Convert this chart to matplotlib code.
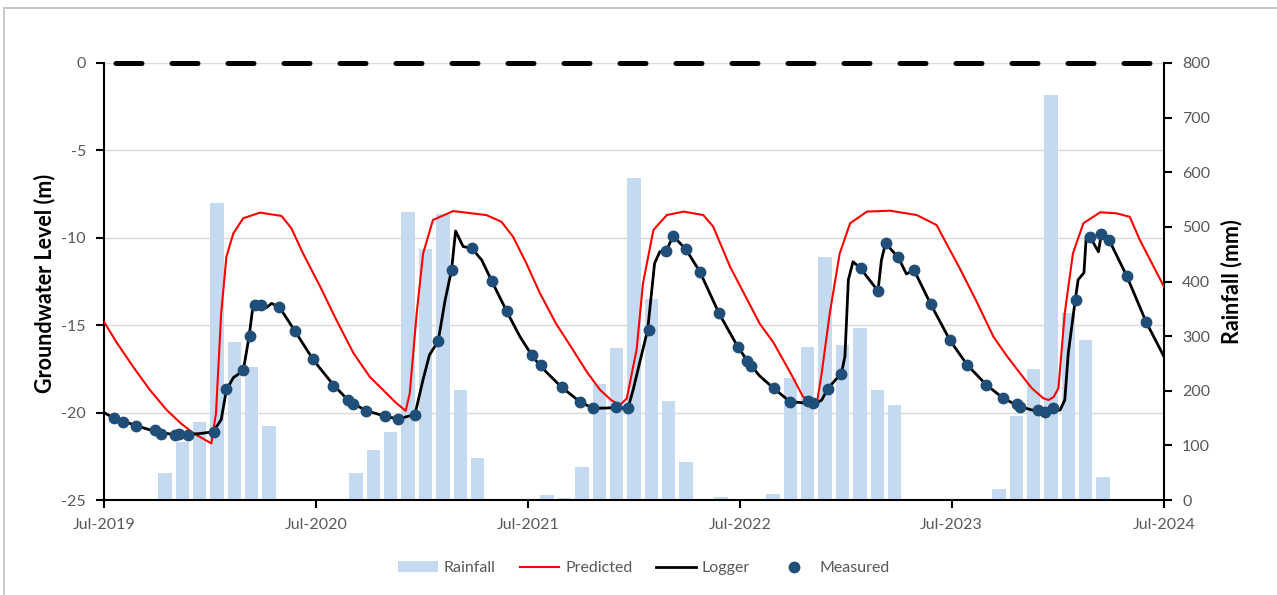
import matplotlib
matplotlib.use('Agg')
import matplotlib.pyplot as plt
import pandas as pd
import matplotlib.dates as mdates
from matplotlib.patches import Rectangle, Patch
from matplotlib.lines import Line2D

# ---------------- data ----------------
rain_months = pd.date_range('2019-07-01', '2024-07-01', freq='MS')  # 61 categories
rainfall_mm = [0, 0, 0, 50, 106, 142,
               544, 289, 244, 136, 0, 0, 0, 0, 50, 91, 124, 528,
               459, 523, 201, 77, 0, 0, 0, 9, 3, 60, 212, 278,
               589, 368, 182, 69, 0, 5, 0, 0, 11, 223, 281, 444,
               283, 314, 201, 173, 0, 0, 0, 0, 0, 21, 154, 239,
               741, 342, 293, 43, 0, 0, 0]

pred_dates = ['2019-07-01', '2019-07-23', '2019-08-20', '2019-09-18', '2019-10-17', '2019-11-10',
              '2019-12-02', '2020-01-02', '2020-01-10',
              '2020-01-19', '2020-01-28', '2020-02-09', '2020-02-26', '2020-03-26', '2020-05-02',
              '2020-05-19', '2020-06-08', '2020-07-07', '2020-08-03', '2020-09-03', '2020-10-01',
              '2020-10-30', '2020-11-15', '2020-12-02',
              '2020-12-09', '2020-12-21', '2021-01-01', '2021-01-18', '2021-02-22', '2021-04-20',
              '2021-05-16', '2021-06-05', '2021-06-28', '2021-07-21', '2021-08-18', '2021-09-16',
              '2021-10-10', '2021-11-02', '2021-11-21',
              '2021-12-06', '2021-12-18', '2022-01-04', '2022-01-15', '2022-02-02', '2022-02-25',
              '2022-03-26', '2022-04-29', '2022-05-16', '2022-06-14', '2022-07-13', '2022-08-04',
              '2022-08-28', '2022-09-25',
              '2022-10-18', '2022-11-11', '2022-11-19', '2022-12-03', '2022-12-20', '2023-01-07',
              '2023-02-05', '2023-03-17', '2023-05-02', '2023-06-05', '2023-06-28', '2023-07-15',
              '2023-08-13', '2023-09-11', '2023-10-05', '2023-10-27', '2023-11-16',
              '2023-12-06', '2023-12-15', '2023-12-24', '2024-01-01',
              '2024-01-12', '2024-01-26', '2024-02-13', '2024-03-13', '2024-04-10', '2024-05-03',
              '2024-05-20', '2024-07-01']
pred_level = [-14.8, -16.0, -17.37, -18.7, -19.85, -20.6,
              -21.18, -21.76, -20.04,
              -14.3, -11.08, -9.74, -8.88, -8.56, -8.75,
              -9.46, -10.89, -12.75, -14.6, -16.6, -17.95,
              -18.9, -19.43, -19.9,
              -18.9, -14.3, -10.9, -8.98, -8.47, -8.7,
              -9.08, -9.94, -11.46, -13.15, -14.9, -16.4,
              -17.66, -18.7, -19.28,
              -19.57, -19.2, -16.4, -12.6, -9.55, -8.7,
              -8.5, -8.7, -9.36, -11.65, -13.5, -14.9,
              -16.0, -17.66,
              -19.1, -19.4, -17.75, -14.3, -10.9, -9.17,
              -8.5, -8.45, -8.7, -9.27, -10.7, -11.75,
              -13.65, -15.66, -16.8, -17.75, -18.6,
              -19.18, -19.28, -19.1, -18.6,
              -14.3, -10.9, -9.17, -8.54, -8.6, -8.8,
              -10.1, -12.8]

logger_dates = ['2019-07-01', '2019-07-17', '2019-08-26', '2019-09-29', '2019-11-03', '2019-12-13',
                '2020-01-05', '2020-01-19', '2020-01-28', '2020-02-09', '2020-02-26', '2020-03-07',
                '2020-03-14', '2020-04-06', '2020-04-15', '2020-04-29', '2020-05-25', '2020-06-26',
                '2020-07-30', '2020-08-28', '2020-09-26', '2020-10-27', '2020-11-19', '2020-12-18',
                '2021-01-01', '2021-01-12', '2021-01-27', '2021-02-08', '2021-02-19', '2021-02-26',
                '2021-03-11', '2021-03-26', '2021-04-12', '2021-04-29', '2021-05-25', '2021-06-17',
                '2021-07-07', '2021-07-21', '2021-08-28', '2021-09-28', '2021-10-21', '2021-11-30',
                '2021-12-20', '2021-12-29', '2022-01-09', '2022-01-23', '2022-02-04', '2022-02-13',
                '2022-02-24', '2022-03-08', '2022-03-30', '2022-04-23', '2022-05-26', '2022-06-28',
                '2022-07-15', '2022-08-04', '2022-08-28', '2022-09-25', '2022-10-15', '2022-11-04',
                '2022-11-19', '2022-11-30', '2022-12-23', '2022-12-29', '2023-01-04', '2023-01-12',
                '2023-01-25', '2023-02-24', '2023-03-02', '2023-03-09', '2023-03-31', '2023-04-14',
                '2023-04-27', '2023-05-26', '2023-06-28', '2023-07-28', '2023-08-30', '2023-09-28',
                '2023-10-24', '2023-11-16', '2023-12-09', '2024-01-04', '2024-01-12', '2024-01-18',
                '2024-01-30', '2024-02-04', '2024-02-14', '2024-02-18', '2024-02-27', '2024-03-10',
                '2024-03-15', '2024-03-28', '2024-04-28', '2024-05-31', '2024-07-01']
logger_level = [-20.0, -20.3, -20.75, -21.1, -21.28, -21.2,
                -21.1, -20.4, -18.7, -18.0, -17.6, -15.66,
                -13.85, -14.0, -13.75, -14.0, -15.33, -17.0,
                -18.4, -19.4, -19.9, -20.2, -20.37, -20.1,
                -18.1, -16.7, -15.9, -13.56, -11.84, -9.61,
                -10.5, -10.6, -11.27, -12.45, -14.2, -15.66,
                -16.7, -17.3, -18.56, -19.37, -19.76, -19.72,
                -19.76, -18.7, -17.18, -15.27, -11.46, -10.8,
                -10.75, -9.9, -10.66, -11.94, -14.32, -16.27,
                -17.08, -17.9, -18.6, -19.37, -19.43, -19.57,
                -19.28, -18.6, -17.75, -16.8, -12.4, -11.37,
                -11.75, -13.04, -11.27, -10.32, -11.12, -12.07,
                -11.84, -13.8, -15.86, -17.28, -18.42, -19.18,
                -19.62, -19.85, -19.94, -19.85, -19.28, -16.6,
                -13.56, -12.4, -12.0, -9.94, -10.09, -10.8,
                -9.78, -10.1, -12.2, -14.8, -16.8]

meas_dates = ['2019-07-18', '2019-08-02', '2019-08-26', '2019-09-27', '2019-10-08', '2019-10-31',
              '2019-11-08', '2019-11-23', '2020-01-06', '2020-01-28', '2020-02-26', '2020-03-08',
              '2020-03-18', '2020-03-28', '2020-04-27', '2020-05-25', '2020-06-25', '2020-07-29',
              '2020-08-25', '2020-09-03', '2020-09-25', '2020-10-28', '2020-11-18', '2020-12-18',
              '2021-01-27', '2021-02-19', '2021-03-26', '2021-04-29', '2021-05-25', '2021-07-08',
              '2021-07-24', '2021-08-28', '2021-09-28', '2021-10-21', '2021-11-30', '2021-12-20',
              '2022-01-26', '2022-02-24', '2022-03-08', '2022-03-30', '2022-04-23', '2022-05-26',
              '2022-06-28', '2022-07-13', '2022-07-21', '2022-08-28', '2022-09-26', '2022-10-27',
              '2022-11-04', '2022-11-30', '2022-12-23', '2023-01-25', '2023-02-24', '2023-03-09',
              '2023-03-30', '2023-04-27', '2023-05-26', '2023-06-28', '2023-07-28', '2023-08-30',
              '2023-09-28', '2023-10-21', '2023-10-27', '2023-11-27', '2023-12-09', '2023-12-23',
              '2024-01-31', '2024-02-24', '2024-03-15', '2024-03-28', '2024-04-28', '2024-05-31']
meas_level = [-20.3, -20.55, -20.75, -21.0, -21.2, -21.28,
              -21.25, -21.28, -21.1, -18.67, -17.56, -15.62,
              -13.85, -13.85, -13.98, -15.33, -16.95, -18.46,
              -19.28, -19.5, -19.88, -20.2, -20.37, -20.14,
              -15.9, -11.84, -10.6, -12.45, -14.2, -16.7,
              -17.28, -18.56, -19.37, -19.76, -19.7, -19.76,
              -15.27, -10.75, -9.9, -10.66, -11.94, -14.32,
              -16.27, -17.02, -17.34, -18.6, -19.37, -19.36,
              -19.46, -18.67, -17.79, -11.75, -13.04, -10.32,
              -11.12, -11.84, -13.8, -15.86, -17.28, -18.42,
              -19.18, -19.51, -19.66, -19.85, -19.98, -19.76,
              -13.56, -9.94, -9.78, -10.1, -12.2, -14.8]

ground_dates = ['2019-07-01', '2024-07-01']
ground_level = [0, 0]

level_ticks = [0, -5, -10, -15, -20, -25]
rain_ticks = list(range(0, 801, 100))
year_ticks = pd.to_datetime(['2019-07-01', '2020-07-01', '2021-07-01',
                             '2022-07-01', '2023-07-01', '2024-07-01'])

# ---------------- style ----------------
FONT = 'Lato'
GREY = '#595959'
BAR_C = '#c5daf0'
RED = '#ff0000'
DOT_C = '#1f4e79'
plt.rcParams['font.family'] = [FONT, 'DejaVu Sans']
plt.rcParams['axes.unicode_minus'] = False

W, H = 1277, 595
fig = plt.figure(figsize=(W / 100, H / 100), dpi=100)
fig.patch.set_facecolor('white')
pos = [104 / W, 95 / H, 1060 / W, 437 / H]

# base axes: grid, left axis, date axis
ax = fig.add_axes(pos)
ax.set_zorder(1)
ax.set_xlim(pd.Timestamp('2019-07-01'), pd.Timestamp('2024-07-01'))
ax.set_ylim(-25, 0)
ax.set_yticks(level_ticks)
ax.set_xticks(year_ticks)
ax.xaxis.set_major_formatter(mdates.DateFormatter('%b-%Y'))
ax.grid(axis='y', color='#d9d9d9', lw=1.0)
ax.set_axisbelow(True)
for s in ax.spines.values():
    s.set_visible(False)
ax.tick_params(axis='both', direction='out', length=6, width=1.5, color='black',
               labelcolor=GREY, labelsize=11.5, pad=7)

# bar axes: category axis for monthly rainfall + right axis
axb = fig.add_axes(pos)
axb.set_zorder(2)
axb.patch.set_alpha(0)
cats = list(range(len(rain_months)))
axb.bar(cats, rainfall_mm, width=0.77, color=BAR_C, zorder=2)
axb.set_xlim(-0.5, len(rain_months) - 0.5)
axb.set_ylim(0, 800)
axb.set_xticks([])
axb.yaxis.tick_right()
axb.set_yticks(rain_ticks)
axb.spines['top'].set_visible(False)
for k in ['left', 'right', 'bottom']:
    axb.spines[k].set_color('black')
    axb.spines[k].set_linewidth(1.5)
axb.tick_params(axis='y', direction='out', length=6, width=1.5, color='black',
                labelcolor=GREY, labelsize=11.5, pad=7)

# line axes on top
axt = fig.add_axes(pos, sharex=ax, sharey=ax)
axt.set_zorder(3)
axt.patch.set_alpha(0)
axt.axis('off')
axt.plot(pd.to_datetime(ground_dates), ground_level, color='black', lw=3.6,
         ls=(8.9, (5.2, 6.0)), dash_capstyle='round', clip_on=False)
axt.plot(pd.to_datetime(pred_dates), pred_level, color=RED, lw=1.5)
axt.plot(pd.to_datetime(logger_dates), logger_level, color='black', lw=2.0)
axt.plot(pd.to_datetime(meas_dates), meas_level, 'o', ms=7.5, color=DOT_C, mec=DOT_C)

# axis titles
fig.text(45 / W, 1 - 283 / H, 'Groundwater Level (m)', rotation=90, ha='center', va='center',
         fontsize=15.5, fontweight='bold', color='black')
fig.text(1232 / W, 1 - 281.5 / H, 'Rainfall (mm)', rotation=90, ha='center', va='center',
         fontsize=15.5, fontweight='bold', color='black')

# legend
handles = [Patch(facecolor=BAR_C, edgecolor='none'),
           Line2D([], [], color=RED, lw=1.5),
           Line2D([], [], color='black', lw=2.0),
           Line2D([], [], ls='none', marker='o', ms=7.5, color=DOT_C)]
labels = ['Rainfall', 'Predicted', 'Logger', 'Measured']
fig.legend(handles, labels, loc='center', bbox_to_anchor=(644 / W, 1 - 568 / H), ncol=4,
           frameon=False, fontsize=11.5, labelcolor=GREY, handlelength=2.5,
           handletextpad=0.35, columnspacing=1.5)

# chart border
fig.patches.append(Rectangle((4 / W, -0.2), 2.0, 1.2 - 8 / H, transform=fig.transFigure,
                             fill=False, edgecolor='#bfbfbf', lw=1.2))

fig.savefig('out.png', dpi=100)
